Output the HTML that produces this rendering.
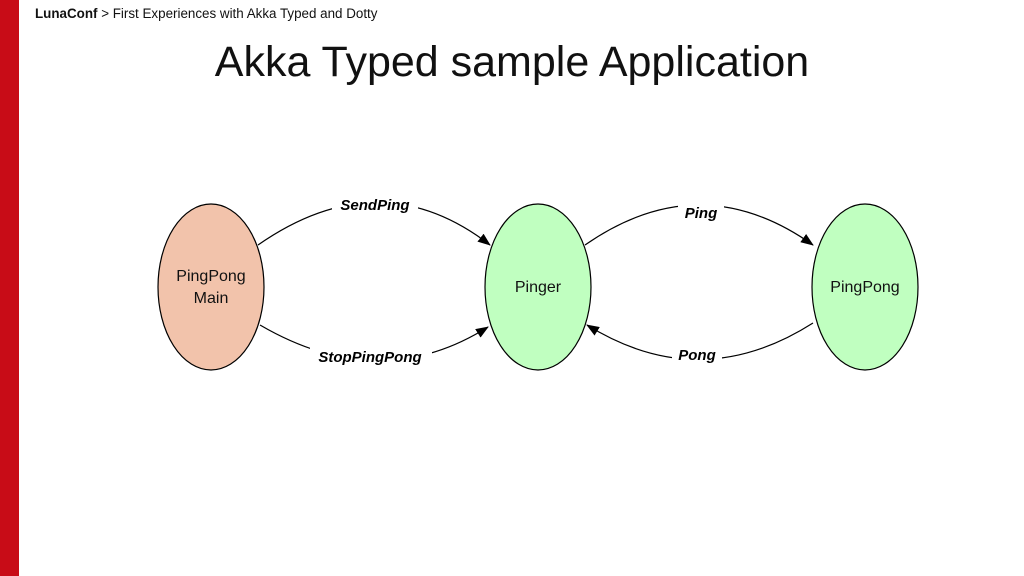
<!DOCTYPE html>
<html><head><style>
body{margin:0;width:1024px;height:576px;background:#fff;overflow:hidden;position:relative;font-family:"Liberation Sans",sans-serif}
.bar{position:absolute;left:0;top:0;width:19px;height:576px;background:#c80c17}
.hdr{position:absolute;left:35px;top:6px;font-size:13.4px;color:#111}
.title{position:absolute;left:0;width:1024px;top:38px;text-align:center;font-size:43px;color:#111}
</style></head><body>
<div class="bar"></div>
<div class="hdr"><b>LunaConf</b> &gt; First Experiences with Akka Typed and Dotty</div>
<div class="title">Akka Typed sample Application</div>
<svg width="1024" height="576" style="position:absolute;left:0;top:0">
<defs><marker id="a" markerWidth="13" markerHeight="10" refX="12" refY="5" orient="auto" markerUnits="userSpaceOnUse"><path d="M0,0 L13,5 L0,10 z" fill="#000"/></marker></defs>
<g stroke="#000" stroke-width="1.2" fill="none">
<path d="M258,245 Q380,160 490,245" marker-end="url(#a)"/>
<path d="M260,325 Q380,395 488,327" marker-end="url(#a)"/>
<path d="M585,245 Q700,165 813,245" marker-end="url(#a)"/>
<path d="M813,323 Q700,395 587,325" marker-end="url(#a)"/>
</g>
<g font-family="Liberation Sans,sans-serif" font-weight="bold" font-style="italic" font-size="15" text-anchor="middle">
<rect x="332" y="193" width="86" height="22" fill="#fff"/><text x="375" y="210">SendPing</text>
<rect x="310" y="345" width="122" height="22" fill="#fff"/><text x="370" y="362">StopPingPong</text>
<rect x="678" y="201" width="46" height="22" fill="#fff"/><text x="701" y="218">Ping</text>
<rect x="672" y="343" width="50" height="22" fill="#fff"/><text x="697" y="360">Pong</text>
</g>
<g stroke="#000" stroke-width="1.2">
<ellipse cx="211" cy="287" rx="53" ry="83" fill="#f2c3ab"/>
<ellipse cx="538" cy="287" rx="53" ry="83" fill="#c0ffc0"/>
<ellipse cx="865" cy="287" rx="53" ry="83" fill="#c0ffc0"/>
</g>
<g font-family="Liberation Sans,sans-serif" font-size="16" text-anchor="middle" fill="#111">
<text x="211" y="281">PingPong</text><text x="211" y="303">Main</text>
<text x="538" y="292">Pinger</text>
<text x="865" y="292">PingPong</text>
</g>
</svg>
</body></html>
